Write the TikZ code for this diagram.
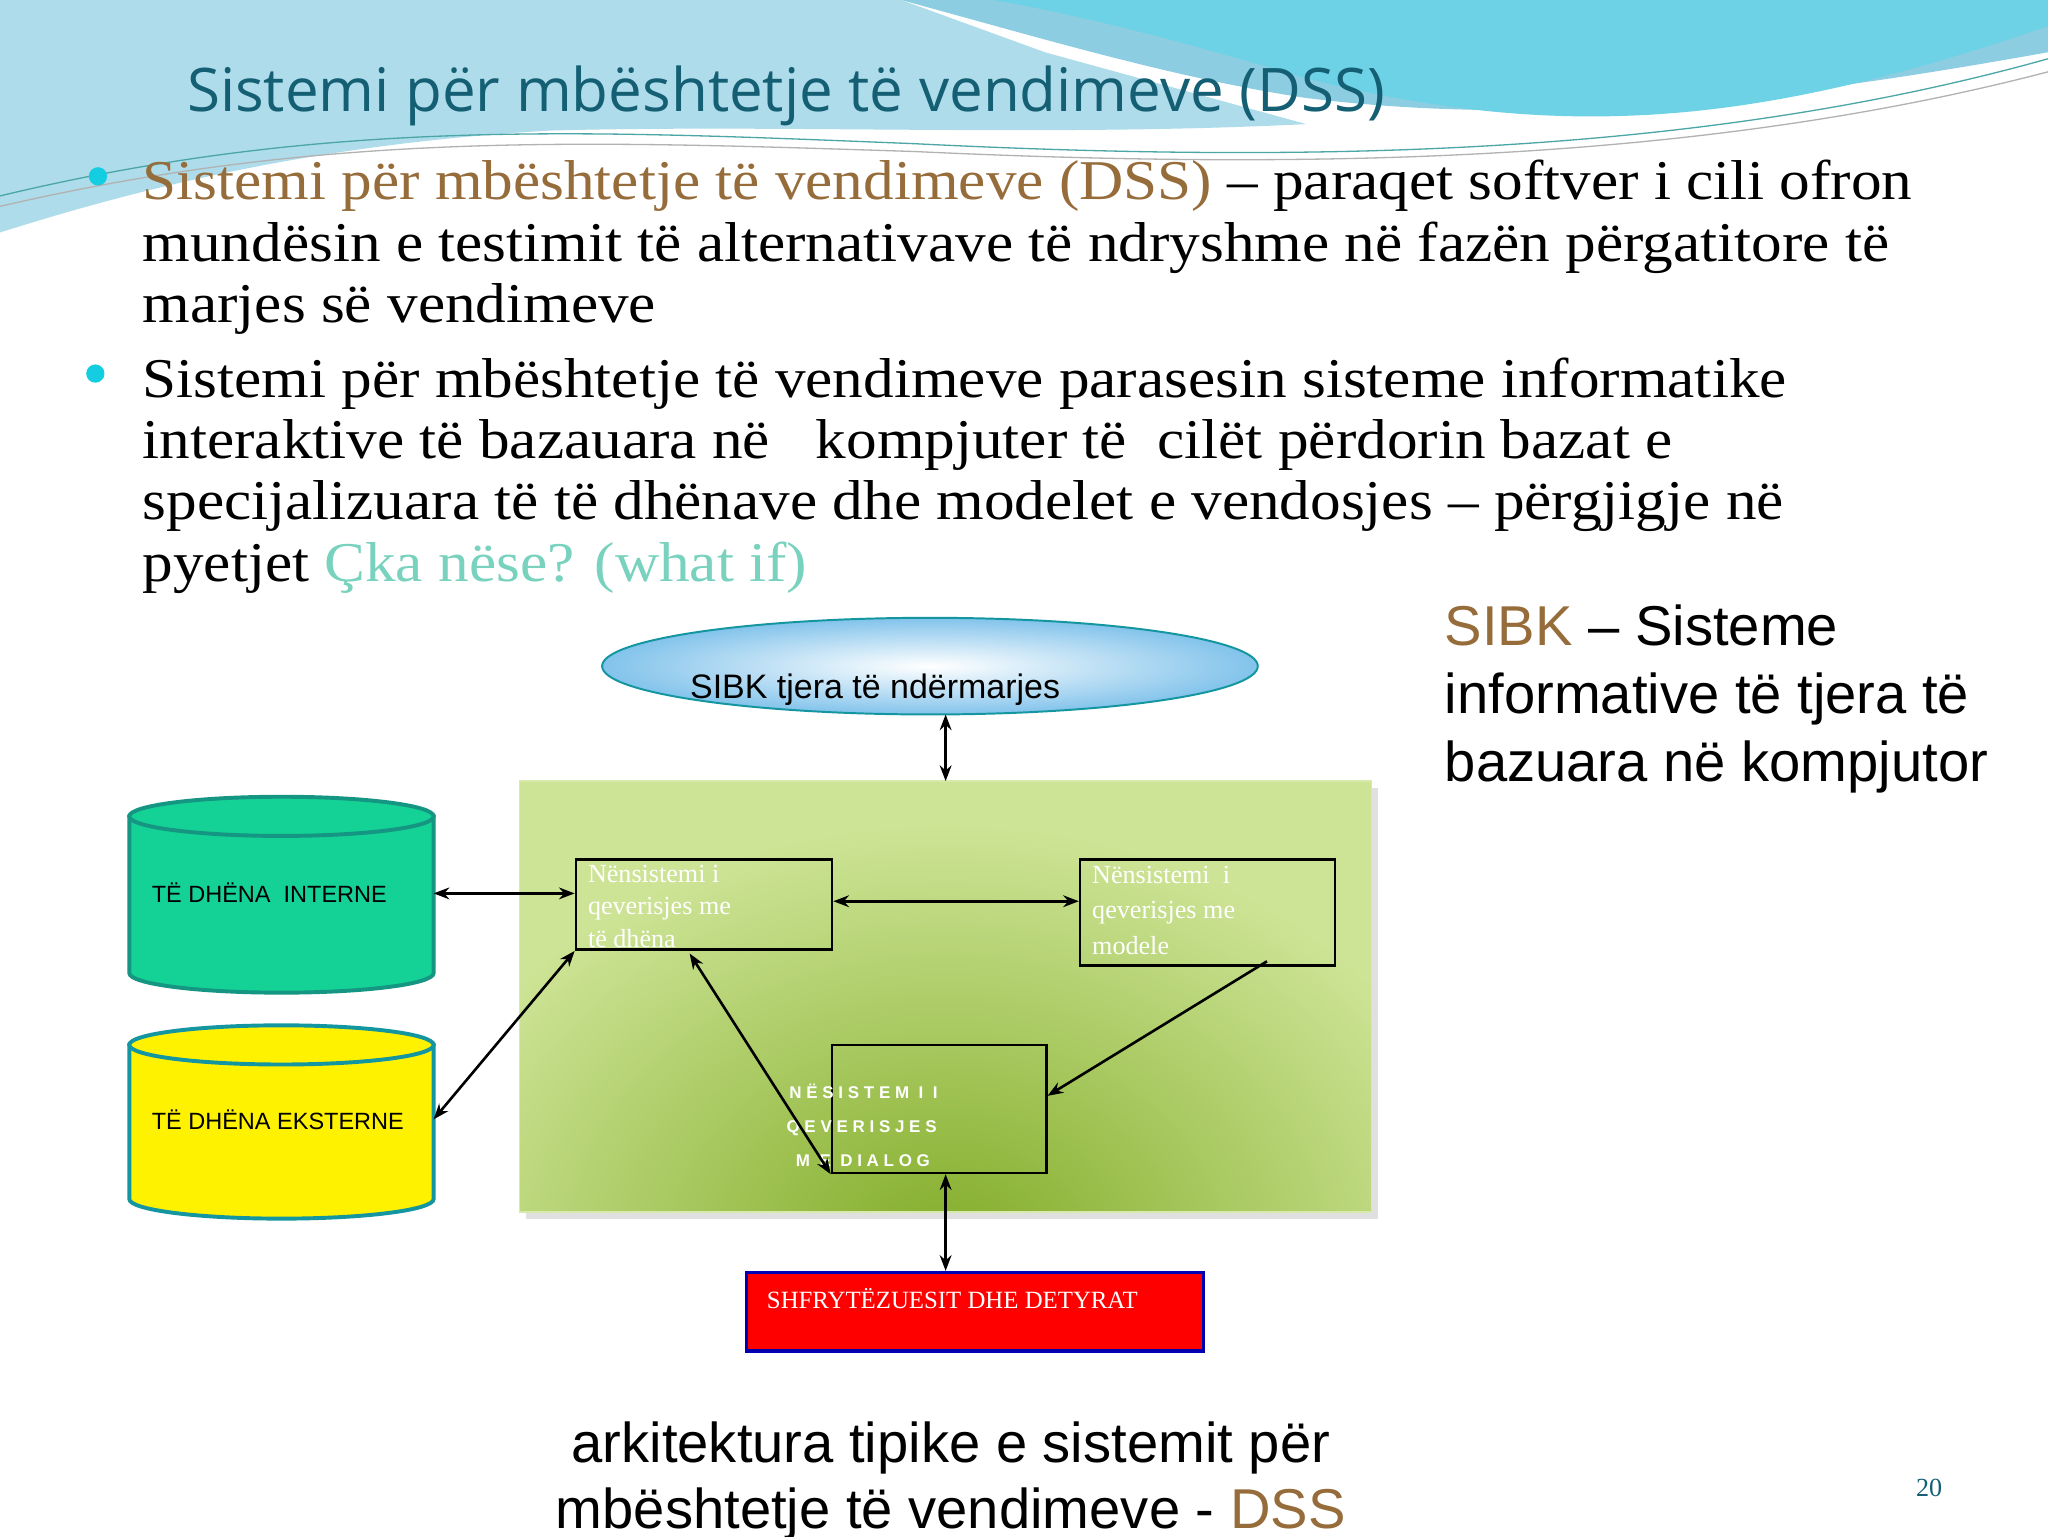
\documentclass[tikz,border=0pt]{standalone}
\usepackage{fontspec}
\setmainfont{Liberation Serif}
\setsansfont{Liberation Sans}
\newfontfamily\titlefont{Open Sans}
\newfontfamily\bodyfont[FakeStretch=1.09]{Liberation Serif}
\usetikzlibrary{arrows.meta}
\definecolor{ttl}{RGB}{20,95,115}
\definecolor{brn}{RGB}{150,108,58}
\definecolor{lteal}{RGB}{120,210,190}
\definecolor{wave}{RGB}{140,205,225}
\definecolor{wave2}{RGB}{110,210,230}
\definecolor{cyl1}{RGB}{20,210,150}
\definecolor{cyl1b}{RGB}{20,150,130}
\definecolor{cylb}{RGB}{20,150,160}
\definecolor{gdark}{RGB}{130,172,40}
\definecolor{glight}{RGB}{205,228,150}
\definecolor{ell}{RGB}{130,195,235}
\definecolor{bul}{RGB}{20,205,225}
\tikzset{
  arr/.style={{Stealth[length=12pt,width=9pt]}-{Stealth[length=12pt,width=9pt]},line width=2pt},
  arr1/.style={-{Stealth[length=12pt,width=9pt]},line width=2pt},
  sbox/.style={draw=black,line width=2pt,anchor=north west,inner sep=0pt},
  btxt/.style={text=white,font=\fontsize{20}{25}\selectfont,align=left,anchor=north west,inner sep=0pt},
  body/.style={anchor=base west,inner sep=0pt,font=\bodyfont\fontsize{43}{47}\selectfont,align=left},
}
\begin{document}
\begin{tikzpicture}[x=1pt,y=-1pt]
\useasboundingbox (0,0) rectangle (1568,1176);
\fill[white] (0,0) rectangle (1568,1176);
% waves
\fill[wave] (0,0) -- (690,0) .. controls (800,30) and (900,60) .. (1000,75) .. controls (1200,100) and (1400,70) .. (1568,40) -- (1568,0) -- cycle;
\fill[wave!70] (0,0) -- (0,178) .. controls (120,140) and (250,110) .. (420,100) .. controls (600,95) and (800,105) .. (1000,95) -- (800,40) -- (690,0) -- cycle;
\fill[wave2] (760,0) -- (1568,0) -- (1568,20) .. controls (1350,95) and (1200,110) .. (1000,60) .. controls (900,30) and (820,10) .. (760,0) -- cycle;
\draw[teal!70,line width=1pt] (0,150) .. controls (250,90) and (450,100) .. (700,110) .. controls (1000,125) and (1300,120) .. (1568,45);
\draw[gray!60,line width=1pt] (0,158) .. controls (250,100) and (450,108) .. (700,116) .. controls (1000,130) and (1300,125) .. (1568,55);
% title
\node[anchor=base west,inner sep=0pt,text=ttl,font=\titlefont\fontsize{46}{50}\selectfont] (title) at (143,85) {Sistemi për mbështetje të vendimeve (DSS)};
% bullets
\fill[bul] (75,135) circle (7);
\fill[bul] (73,286) circle (7);
\node[body] (b1) at (109,247) {\textcolor{brn}{Sistemi për mbështetje të vendimeve (DSS)} – paraqet softver i cili ofron\\mundësin e testimit të alternativave të ndryshme në fazën përgatitore të\\marjes së vendimeve};
\node[body] (b2) at (109,445) {Sistemi për mbështetje të vendimeve parasesin sisteme informatike\\interaktive të bazauara në \ \ kompjuter të \ cilët përdorin bazat e\\specijalizuara të të dhënave dhe modelet e vendosjes – përgjigje në\\pyetjet \textcolor{lteal}{Çka nëse? (what if)}};
\node[anchor=base west,inner sep=0pt,align=left,font=\sffamily\fontsize{43}{52}\selectfont] (sibk) at (1106,598) {\textcolor{brn}{SIBK} – Sisteme\\informative të tjera të\\bazuara në kompjutor};
% ellipse
\shade[inner color=white,outer color=ell,draw=cylb,line width=1.5pt] (712,510) ellipse (251 and 37);
\coordinate (ellb) at (724,547);
\node[anchor=base,inner sep=0pt,font=\sffamily\fontsize{26}{30}\selectfont] (elltxt) at (670,535) {SIBK tjera të ndërmarjes};
% green rect
\fill[black!12] (403,603) rectangle (1055,933);
\begin{scope}
\clip (398,598) rectangle (1050,928);
\fill[glight] (398,598) rectangle (1050,928);
\shade[inner color=gdark,outer color=glight] (724,960) ellipse (420 and 330);
\end{scope}
\draw[glight!80!white,line width=1pt] (398,598) rectangle (1050,928);
\coordinate (grtop) at (724,598);
% cylinders
\draw[fill=cyl1,draw=cyl1b,line width=3pt] (99,625) -- (99,745) arc[start angle=180,end angle=0,x radius=116.5,y radius=15] -- (332,625) -- cycle;
\draw[fill=cyl1,draw=cyl1b,line width=3pt] (215.5,625) ellipse (116.5 and 15);
\node[anchor=base west,inner sep=0pt,font=\sffamily\fontsize{18}{22}\selectfont] (int) at (116,691) {TË DHËNA \ INTERNE};
\coordinate (c1) at (332,684);
\draw[fill=yellow,draw=cylb,line width=3pt] (99,800) -- (99,918) arc[start angle=180,end angle=0,x radius=116.5,y radius=15] -- (332,800) -- cycle;
\draw[fill=yellow,draw=cylb,line width=3pt] (215.5,800) ellipse (116.5 and 15);
\node[anchor=base west,inner sep=0pt,font=\sffamily\fontsize{18}{22}\selectfont] (ext) at (116,865) {TË DHËNA EKSTERNE};
\coordinate (c2) at (332,857);
% boxes
\node[sbox,minimum width=196,minimum height=69] (A) at (440,657) {};
\node[btxt] at (450,662) {Nënsistemi i\\qeverisjes me\\të dhëna};
\node[sbox,minimum width=195,minimum height=81] (B) at (826,657) {};
\node[btxt,font=\fontsize{20}{27}\selectfont] at (836,663) {Nënsistemi \ i\\qeverisjes me\\modele};
\node[sbox,minimum width=164,minimum height=98] (C) at (636,799) {};
\node[anchor=north west,inner sep=0pt,text=white,align=left,font=\sffamily\bfseries\fontsize{13}{26}\selectfont] (ctxt) at (602,830) {\,N Ë S I S T E M \ I \ I\\Q E V E R I S J E S\\\ \ M \ E \ D I A L O G};
% red box
\node[anchor=north west,inner sep=0pt,draw=blue!70!black,fill=red,line width=2.5pt,minimum width=350,minimum height=60] (R) at (570,973) {};
\node[anchor=base west,inner sep=0pt,text=white,font=\fontsize{19}{22}\selectfont] (rtxt) at (587,1002) {SHFRYTËZUESIT DHE DETYRAT};
% arrows
\draw[arr] (ellb) -- (grtop);
\draw[arr] (c1) -- (A.west |- c1);
\draw[arr] (c2) -- (A.south west);
\draw[arr] ([yshift=-33]A.north east) -- ([yshift=-33]B.north west);
\draw[arr] (528,730) -- (C.south west);
\draw[arr1] (970,736) -- ([yshift=10]C.east);
\draw[arr] (C.south -| ellb) -- (R.north -| ellb);
% caption
\node[anchor=base,inner sep=0pt,align=center,font=\sffamily\fontsize{43}{50}\selectfont] (cap) at (728,1170) {arkitektura tipike e sistemit për\\mbështetje të vendimeve - \textcolor{brn}{DSS}};
\node[anchor=base,inner sep=0pt,text=ttl,font=\fontsize{20}{24}\selectfont] (pg) at (1477,1146) {20};
\end{tikzpicture}
\end{document}
